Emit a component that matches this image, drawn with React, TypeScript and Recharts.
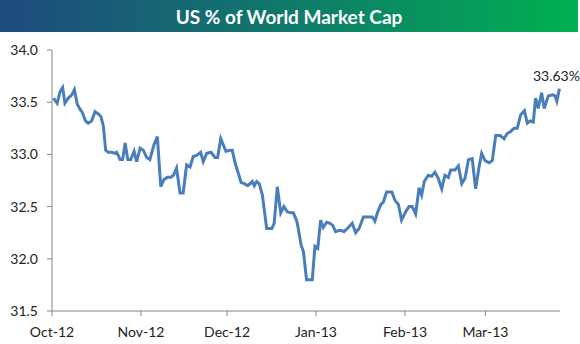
import { CartesianGrid, Line, LineChart, XAxis, YAxis } from 'recharts'

// days since 1 Oct 2012
const days = [
  0.5, 1.8, 2.8, 3.7, 4.5, 5.7, 6.9, 7.8, 8.8, 9.8, 10.6, 11.7, 12.6, 13.8, 15.0, 16.5, 17.1, 17.9, 18.7, 19.6,
  20.8, 22.0, 22.5, 23.1, 23.7, 24.6, 25.5, 26.4, 27.4, 28.6, 29.5, 30.7, 31.8, 33.0, 34.1, 35.5, 36.7, 37.9, 39.0, 40.2,
  41.4, 42.3, 43.4, 44.6, 45.7, 46.9, 48.1, 49.2, 50.4, 51.8, 52.7, 53.9, 55.4, 56.8, 57.7, 58.8, 59.7, 60.6, 62.0, 62.8,
  63.8, 64.9, 65.9, 67.0, 68.2, 69.8, 70.5, 71.3, 72.2, 73.3, 74.8, 76.6, 77.4, 78.5, 79.7, 80.8, 82.0, 83.2, 84.1, 85.3,
  85.8, 86.8, 87.6, 88.7, 90.7, 91.6, 92.6, 93.6, 94.5, 95.7, 96.9, 97.8, 98.8, 100.0, 100.9, 101.7, 102.9, 104.6, 105.8, 107.0,
  108.5, 109.7, 111.6, 112.5, 113.5, 114.6, 115.4, 116.6, 118.4, 119.5, 120.7, 121.8, 123.2, 124.4, 125.5, 126.7, 127.9, 128.8, 129.7, 131.1,
  132.3, 133.4, 134.6, 135.8, 136.9, 138.1, 138.9, 140.4, 141.6, 142.8, 143.9, 145.1, 146.4, 147.6, 148.8, 149.7, 150.9, 152.3, 153.4, 154.6,
  156.1, 157.5, 158.6, 159.8, 161.0, 162.1, 163.3, 164.6, 165.6, 166.6, 167.7, 168.5, 169.4, 170.6, 171.5, 172.9, 174.5, 175.3, 175.9, 176.8,
]

const usShare = [
  33.54, 33.49, 33.6, 33.64, 33.49, 33.54, 33.57, 33.62, 33.48, 33.43, 33.4, 33.32, 33.3, 33.32, 33.41, 33.38, 33.36, 33.27, 33.04, 33.02,
  33.02, 33.01, 33.02, 32.99, 32.95, 32.95, 33.11, 32.95, 32.95, 33.03, 32.93, 33.06, 33.04, 32.97, 32.95, 33.09, 33.17, 32.69, 32.76, 32.78,
  32.78, 32.8, 32.87, 32.63, 32.63, 32.9, 32.88, 32.98, 32.99, 33.02, 32.93, 33.01, 33.02, 32.97, 32.97, 33.15, 33.09, 33.03, 33.04, 33.04,
  32.92, 32.82, 32.73, 32.72, 32.7, 32.74, 32.7, 32.74, 32.72, 32.61, 32.29, 32.29, 32.34, 32.69, 32.44, 32.5, 32.45, 32.44, 32.44, 32.36,
  32.29, 32.13, 32.07, 31.8, 31.8, 32.12, 32.1, 32.37, 32.3, 32.35, 32.34, 32.32, 32.26, 32.27, 32.27, 32.26, 32.29, 32.34, 32.25, 32.29,
  32.4, 32.4, 32.4, 32.36, 32.45, 32.52, 32.54, 32.64, 32.64, 32.56, 32.52, 32.37, 32.45, 32.5, 32.5, 32.43, 32.68, 32.61, 32.74, 32.8,
  32.79, 32.83, 32.77, 32.67, 32.8, 32.78, 32.85, 32.85, 32.89, 32.72, 32.77, 32.95, 32.96, 32.67, 32.88, 33.01, 32.94, 32.92, 32.94, 33.18,
  33.18, 33.15, 33.2, 33.22, 33.25, 33.25, 33.38, 33.42, 33.3, 33.32, 33.31, 33.54, 33.44, 33.59, 33.44, 33.56, 33.57, 33.56, 33.51, 33.63,
]

const monthTicks = [0, 31, 61, 92, 123, 151]
const monthLabels = ['Oct-12', 'Nov-12', 'Dec-12', 'Jan-13', 'Feb-13', 'Mar-13']
const valueTicks = [31.5, 32.0, 32.5, 33.0, 33.5, 34.0]

const chartData = days.map((day, i) => ({ day, share: usShare[i] }))

const AXIS_COLOR = '#868686'
const LINE_COLOR = '#4a7ebb'
const FONT = 'Lato, "Open Sans", sans-serif'

function LastLabel(props: any) {
  const { x, y, index, value } = props
  if (index !== chartData.length - 1) return null
  return (
    <text x={x - 3} y={y - 8} textAnchor="middle" fontSize={14} fill="#222" fontFamily={FONT}>
      {`${Number(value).toFixed(2)}%`}
    </text>
  )
}

export default function App() {
  return (
    <div style={{ position: 'absolute', left: 0, top: 0, width: 580, height: 344, background: '#fff', fontFamily: FONT }}>
      <div
        style={{
          position: 'absolute',
          left: 0,
          top: 0,
          width: 578,
          height: 32,
          overflow: 'hidden',
          background: 'linear-gradient(to right, #1f4a7e, #0f7a6a 50%, #00b050)',
          color: '#fff',
          fontWeight: 700,
          fontSize: 19,
          lineHeight: '34px',
          textAlign: 'center',
        }}
      >
        US % of World Market Cap
      </div>
      <LineChart width={580} height={344} data={chartData} margin={{ top: 50, right: 20, bottom: 0, left: 0 }}>
        <CartesianGrid stroke="none" />
        <XAxis
          type="number"
          dataKey="day"
          domain={[0, 177]}
          ticks={monthTicks}
          tickFormatter={(v) => monthLabels[monthTicks.indexOf(v)] ?? ''}
          height={33}
          tickMargin={11}
          tickSize={5}
          stroke={AXIS_COLOR}
          tick={{ fill: '#222', fontSize: 14, fontFamily: FONT }}
          interval={0}
        />
        <YAxis
          type="number"
          domain={[31.5, 34.0]}
          ticks={valueTicks}
          tickFormatter={(v) => Number(v).toFixed(1)}
          width={52}
          tickMargin={9}
          tickSize={5}
          stroke={AXIS_COLOR}
          tick={{ fill: '#222', fontSize: 14, fontFamily: FONT }}
          interval={0}
        />
        <Line
          type="linear"
          dataKey="share"
          stroke={LINE_COLOR}
          strokeWidth={3}
          dot={false}
          isAnimationActive={false}
          label={<LastLabel />}
        />
      </LineChart>
    </div>
  )
}
